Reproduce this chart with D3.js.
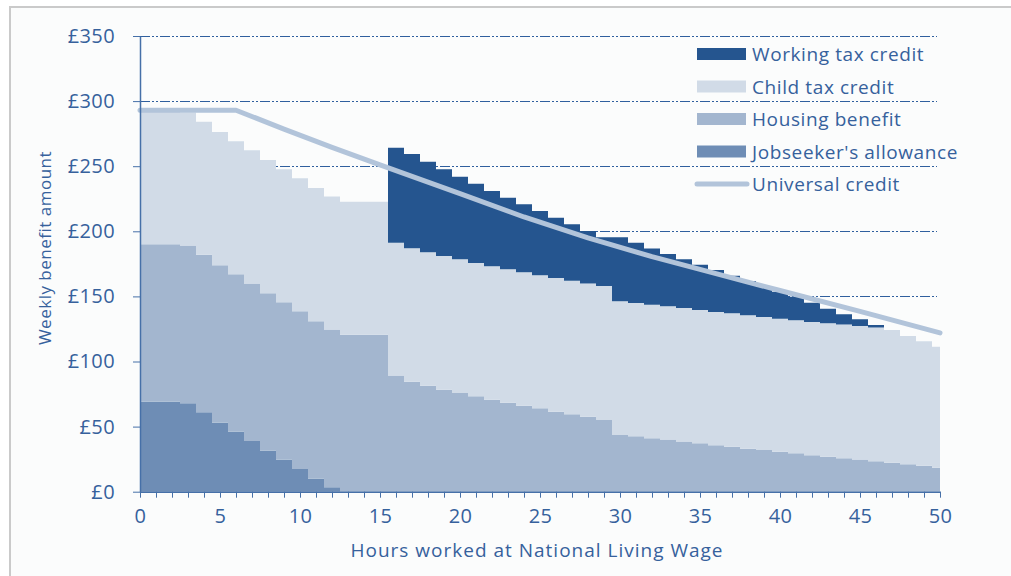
<!DOCTYPE html>
<html>
<head>
<meta charset="utf-8">
<script src="https://cdn.jsdelivr.net/npm/d3@7"></script>
<style>
  body { margin: 0; background: #fff; }
  svg text { font-family: "Open Sans", "Noto Sans", sans-serif; fill: #36619c; }
</style>
</head>
<body>
<div id="chart"></div>
<script>
'use strict';

// hours worked, 0..50
var hours = d3.range(0, 51);

// weekly amounts (£) per hour
var jobseekers = [69, 69, 69, 68, 61, 53, 46, 39, 31.5, 24.5, 17.5, 10, 3.5,
    0, 0, 0, 0, 0, 0, 0, 0, 0, 0, 0, 0, 0, 0, 0, 0, 0, 0, 0, 0, 0, 0, 0, 0, 0,
    0, 0, 0, 0, 0, 0, 0, 0, 0, 0, 0, 0, 0];
var housing = [121, 121, 121, 121, 121, 121, 121, 121, 121, 121, 121, 121, 121,
    120.5, 120.5, 120.5, 89.3, 84.4, 81.4, 78.3, 75.8, 73.3, 70.7, 68.4, 66.1,
    64, 61.5, 59.4, 57.6, 55.1, 43.5, 42.6, 41, 40, 38.5, 37.2, 35.6, 34.6, 33,
    32, 30.7, 29.5, 28, 26.9, 25.6, 24.8, 23.3, 22.3, 21, 20, 18.4];
var childTax = [102.2, 102.2, 102.2, 102.2, 102.2, 102.2, 102.2, 102.2, 102.2,
    102.2, 102.2, 102.2, 102.2, 102.2, 102.2, 102.2, 102, 102.5, 102.5, 102.8,
    102.8, 102.4, 102.4, 102.4, 102.4, 102.2, 102.6, 102.7, 102.4, 102.9, 102.8,
    102.4, 102.6, 102.4, 102.6, 102.4, 102.4, 102.4, 102.5, 102.2, 102.2, 102.1,
    102.3, 102.4, 102.8, 102.5, 102.8, 101.9, 98.6, 95.5, 93];
var workingTax = [0, 0, 0, 0, 0, 0, 0, 0, 0, 0, 0, 0, 0, 0, 0, 0,
    72.9, 72.5, 69.6, 66.6, 63.3, 60.9, 57.9, 55, 52.2, 49.4, 46.4, 43.3, 40.2,
    37.4, 49.1, 46.3, 43.1, 40.2, 37.4, 34.8, 32.3, 28.9, 26.3, 23.3, 20.7,
    18.2, 14.9, 11.3, 7.9, 5.1, 2, 0, 0, 0, 0];

// universal credit line
var ucHours = [0, 6, 9, 12, 15, 20, 24, 28, 32, 36, 40, 45, 50];
var ucValues = [293, 293, 278.5, 264.5, 251, 229, 211, 195, 180.5, 167.5, 154.5, 138.5, 122];

var yTicks = [0, 50, 100, 150, 200, 250, 300, 350];
var gridValues = [50, 100, 150, 200, 250, 300, 350];

var seriesNames = ['Working tax credit', 'Child tax credit', 'Housing benefit',
    "Jobseeker's allowance", 'Universal credit'];

var colors = {
    jsa: '#6e8db5',
    hb: '#a3b6cf',
    ctc: '#d1dbe7',
    wtc: '#25558f',
    uc: '#b2c4da'
};

var width = 1011, height = 576;

var svg = d3.select('#chart')
    .append('svg')
    .attr('width', width)
    .attr('height', height);

// frame
svg.append('rect').attr('x', 10).attr('y', 7).attr('width', width - 10).attr('height', height - 7)
    .attr('fill', '#fbfcfc');
svg.append('path').attr('d', 'M10,' + height + 'V7H' + width)
    .attr('fill', 'none').attr('stroke', '#cacaca').attr('stroke-width', 2);

var x = d3.scaleLinear().domain([0, 50]).range([140, 940]);
var y = d3.scaleLinear().domain([0, 350]).range([491.7, 36]);

// gridlines behind the areas
svg.append('g').selectAll('line')
    .data(gridValues)
    .enter().append('line')
    .attr('x1', x(0)).attr('x2', 937)
    .attr('y1', function (d) { return Math.round(y(d)) + 0.5; })
    .attr('y2', function (d) { return Math.round(y(d)) + 0.5; })
    .attr('stroke', '#2f5f9e')
    .attr('stroke-width', 1)
    .attr('stroke-dasharray', '10,2,2,2,2,2');

var rows = hours.map(function (h, i) {
    return { hour: h, jsa: jobseekers[i], hb: housing[i], ctc: childTax[i], wtc: workingTax[i] };
});

var stack = d3.stack().keys(['jsa', 'hb', 'ctc', 'wtc']);
var layers = stack(rows);

var area = d3.area()
    .curve(d3.curveStep)
    .x(function (d) { return x(d.data.hour); })
    .y0(function (d) { return y(d[0]); })
    .y1(function (d) { return y(d[1]); });

svg.append('g').selectAll('path')
    .data(layers)
    .enter().append('path')
    .attr('d', area)
    .attr('fill', function (d) { return colors[d.key]; });

// universal credit
var ucLine = d3.line()
    .x(function (d) { return x(d[0]); })
    .y(function (d) { return y(d[1]); });

svg.append('path')
    .datum(d3.zip(ucHours, ucValues))
    .attr('d', ucLine)
    .attr('fill', 'none')
    .attr('stroke', colors.uc)
    .attr('stroke-width', 5)
    .attr('stroke-linecap', 'round')
    .attr('stroke-linejoin', 'round');

// axes
var yAxis = d3.axisLeft(y)
    .tickValues(yTicks)
    .tickFormat(function (d) { return '£' + d; })
    .tickSize(7)
    .tickSizeOuter(0)
    .tickPadding(18);

var yg = svg.append('g').attr('transform', 'translate(' + x(0) + ',0)').call(yAxis);

var xAxis = d3.axisBottom(x)
    .tickValues(hours)
    .tickFormat(function (d) { return d % 5 === 0 ? d : ''; })
    .tickSize(6)
    .tickSizeOuter(0)
    .tickPadding(11);

var xg = svg.append('g').attr('transform', 'translate(0,' + y(0) + ')').call(xAxis);

[yg, xg].forEach(function (g) {
    g.select('.domain').attr('stroke', '#4670a8').attr('stroke-width', 1.5);
    g.selectAll('.tick line').attr('stroke', '#4670a8');
    g.selectAll('.tick text').attr('font-size', 20).style('fill', '#36619c')
        .attr('letter-spacing', 0.4)
        .attr('font-family', '"Open Sans", sans-serif');
});

// axis titles
svg.append('text')
    .attr('x', 537).attr('y', 557)
    .attr('text-anchor', 'middle')
    .attr('font-size', 19)
    .attr('letter-spacing', 1)
    .text('Hours worked at National Living Wage');

svg.append('text')
    .attr('transform', 'translate(51,248) rotate(-90)')
    .attr('text-anchor', 'middle')
    .attr('font-size', 17)
    .attr('letter-spacing', 0.5)
    .text('Weekly benefit amount');

// legend
var legendKeys = ['wtc', 'ctc', 'hb', 'jsa', 'uc'];
var legend = svg.append('g').selectAll('g')
    .data(legendKeys)
    .enter().append('g')
    .attr('transform', function (d, i) { return 'translate(697,' + (54 + i * 32.5) + ')'; });

legend.each(function (d) {
    var g = d3.select(this);
    if (d === 'uc') {
        g.append('line').attr('x1', 0).attr('x2', 50).attr('y1', 0).attr('y2', 0)
            .attr('stroke', colors.uc).attr('stroke-width', 5).attr('stroke-linecap', 'round');
    } else {
        g.append('rect').attr('x', 0).attr('y', -6).attr('width', 49).attr('height', 12)
            .attr('fill', colors[d]);
    }
});

legend.append('text')
    .attr('x', 55).attr('y', 7)
    .attr('font-size', 19)
    .attr('letter-spacing', 0.6)
    .text(function (d, i) { return seriesNames[i]; });
</script>
</body>
</html>
